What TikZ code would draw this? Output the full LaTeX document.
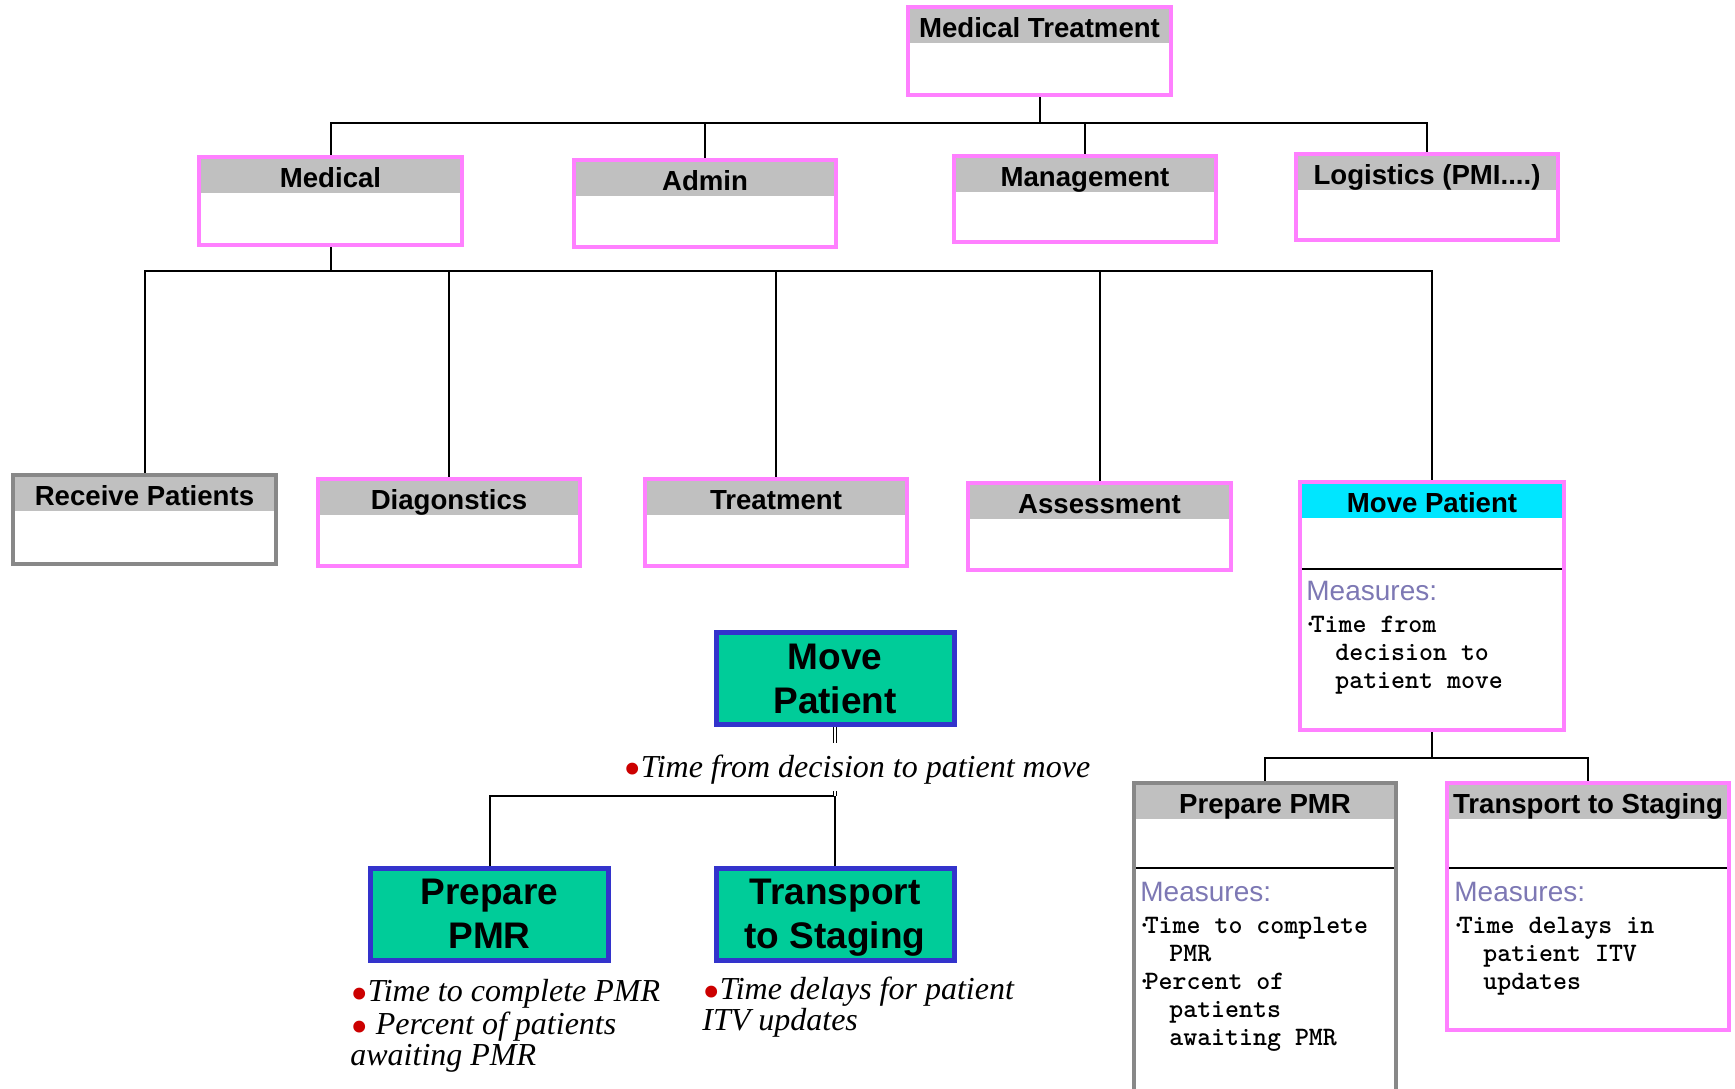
\documentclass[tikz,border=0pt]{standalone}
\usepackage{fontspec}
\setmainfont{Liberation Sans}
\newfontfamily\tmsfont{Liberation Serif}
\usetikzlibrary{fit,calc}
\definecolor{pinkb}{RGB}{255,128,255}
\definecolor{grayb}{RGB}{136,136,136}
\definecolor{hdrgray}{RGB}{192,192,192}
\definecolor{hdrcyan}{RGB}{0,230,255}
\definecolor{tealg}{RGB}{0,204,153}
\definecolor{blueb}{RGB}{51,51,204}
\definecolor{bulred}{RGB}{204,0,0}
\definecolor{measc}{RGB}{125,120,180}
\tikzset{
 umlbox/.style={draw=#1, line width=2pt, fill=white, inner sep=0pt, outer sep=1pt},
 hdrtext/.style={font=\bfseries\fontsize{13.8}{16}\selectfont, anchor=base, inner sep=0pt},
 conn/.style={line width=1pt, draw=black},
 dbl/.style={draw=black, line width=0.6pt, double=white, double distance=1.2pt},
 greenbox/.style={draw=blueb, fill=tealg, line width=2.5pt, inner sep=0pt, outer sep=1.25pt,
   minimum width=119pt, minimum height=46pt, align=center, text depth=0pt,
   font=\bfseries\fontsize{18.5}{22}\selectfont},
 meashd/.style={anchor=base west, inner sep=0pt, text=measc, font=\fontsize{14}{16}\selectfont},
 measbody/.style={anchor=north west, inner sep=0pt, align=left, font=\ttfamily\bfseries\fontsize{13.3}{14}\selectfont},
 bultext/.style={inner sep=0pt, align=left, font=\tmsfont\itshape\fontsize{16}{15.5}\selectfont},
}
\newcommand\umlnode[8]{%
 \node[umlbox=#6, fit={(#2+2,#3+2) (#4-2,#5-2)}] (#1) {};
 \fill[#7] ([shift={(2pt,-2pt)}]#1.north west) rectangle ([shift={(-2pt,-19pt)}]#1.north east);
 \node[hdrtext] (#1-t) at ([yshift=-16pt]#1.north) {#8};
}
\newcommand\rbul{{\color{bulred}\raisebox{-0.27em}{\scalebox{1.55}{•}}}}
\begin{document}
\begin{tikzpicture}[x=0.5pt,y=-0.5pt]
\fill[white] (0,0) rectangle (1735,1088);
\useasboundingbox (0,0) rectangle (1735,1088);

% upper tree
\umlnode{mt}{906}{5}{1173}{97}{pinkb}{hdrgray}{Medical Treatment}
\umlnode{med}{197}{155}{464}{247}{pinkb}{hdrgray}{Medical}
\umlnode{adm}{572}{158}{838}{249}{pinkb}{hdrgray}{Admin}
\umlnode{mgmt}{952}{154}{1218}{244}{pinkb}{hdrgray}{Management}
\umlnode{log}{1294}{152}{1560}{242}{pinkb}{hdrgray}{Logistics (PMI....)}
\umlnode{rec}{11}{473}{278}{566}{grayb}{hdrgray}{Receive Patients}
\umlnode{diag}{316}{477}{582}{568}{pinkb}{hdrgray}{Diagonstics}
\umlnode{treat}{643}{477}{909}{568}{pinkb}{hdrgray}{Treatment}
\umlnode{assess}{966}{481}{1233}{572}{pinkb}{hdrgray}{Assessment}
\umlnode{mp}{1298}{480}{1566}{732}{pinkb}{hdrcyan}{Move Patient}
\umlnode{prep}{1132}{781}{1398}{1100}{grayb}{hdrgray}{Prepare PMR}
\umlnode{trans}{1445}{781}{1731}{1032}{pinkb}{hdrgray}{Transport to Staging}

% separators in measure boxes
\draw[line width=1pt] ([shift={(2pt,-44.5pt)}]mp.north west) -- ([shift={(-2pt,-44.5pt)}]mp.north east);
\draw[line width=1pt] ([shift={(2pt,-43.5pt)}]prep.north west) -- ([shift={(-2pt,-43.5pt)}]prep.north east);
\draw[line width=1pt] ([shift={(2pt,-43.5pt)}]trans.north west) -- ([shift={(-2pt,-43.5pt)}]trans.north east);

% measures
\node[meashd] (mp-mh) at (1306,600) {Measures:};
\node[measbody] (mp-mb) at (1303,616) {·\kern-.25em Time from\\\hspace*{1.2em}decision to\\\hspace*{1.2em}patient move};
\node[meashd] (prep-mh) at (1140,901) {Measures:};
\node[measbody] (prep-mb) at (1137,917) {·\kern-.25em Time to complete\\\hspace*{1.2em}PMR\\·\kern-.25em Percent of\\\hspace*{1.2em}patients\\\hspace*{1.2em}awaiting PMR};
\node[meashd] (trans-mh) at (1454,901) {Measures:};
\node[measbody] (trans-mb) at (1451,917) {·\kern-.25em Time delays in\\\hspace*{1.2em}patient ITV\\\hspace*{1.2em}updates};

% connectors upper tree
\coordinate (b1) at (0,123);
\coordinate (b2) at (0,271);
\coordinate (b3) at (0,758);
\foreach \c in {med,adm,mgmt,log} \draw[conn] (mt.south) -- (mt.south |- b1) -| (\c.north);
\foreach \c in {rec,diag,treat,assess,mp} \draw[conn] (med.south) -- (med.south |- b2) -| (\c.north);
\foreach \c in {prep,trans} \draw[conn] (mp.south) -- (mp.south |- b3) -| (\c.north);

% green chart
\node[greenbox] (mpg) at (835,678.5) {Move\\Patient};
\node[greenbox] (ppg) at (489.5,914) {Prepare\\PMR};
\node[greenbox] (tpg) at (835,914) {Transport\\to Staging};
\coordinate (j) at (835,796);
\draw[conn] (j) -| (ppg.north);
\draw[conn] (j) -- (j |- tpg.north);
\draw[dbl] (mpg.south) -- (mpg.south |- j);
\node[bultext, anchor=base west, fill=white, text height=17pt, text depth=7pt] (dec) at (623,777) {\rbul Time from decision to patient move};
\node[bultext, anchor=north west] (ppt) at (350,979) {\rbul Time to complete PMR\\\rbul\ Percent of patients\\awaiting PMR};
\node[bultext, anchor=north west] (tpt) at (702,977) {\rbul Time delays for patient\\ITV updates};
\end{tikzpicture}
\end{document}
